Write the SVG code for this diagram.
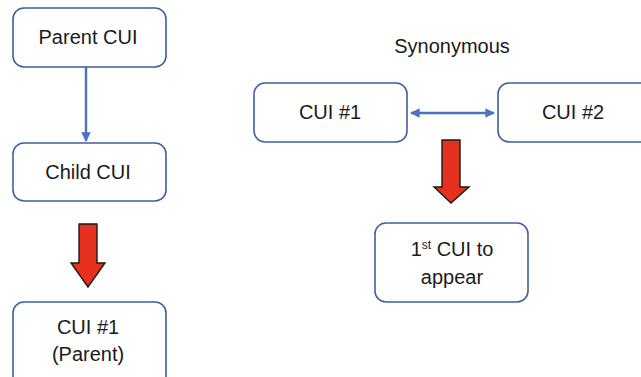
<svg xmlns="http://www.w3.org/2000/svg" width="641" height="377" viewBox="0 0 641 377">
  <style>
    .box { fill: #ffffff; stroke: #3f5f9f; stroke-width: 1.6; }
    .lbl { font-family: "Liberation Sans", Arial, sans-serif; font-size: 20px; fill: #1a1a1a; text-anchor: middle; }
    .link { stroke: #4a72c0; stroke-width: 2.4; fill: none; }
    .bigarrow { fill: #e5311d; stroke: #1a1a1a; stroke-width: 1.4; stroke-linejoin: miter; }
  </style>
  <defs>
    <marker id="head" viewBox="0 0 10 10" refX="9" refY="5" markerWidth="4" markerHeight="4" orient="auto-start-reverse" markerUnits="strokeWidth">
      <path d="M0,0 L10,5 L0,10 z" fill="#4a72c0"/>
    </marker>
  </defs>
  <rect width="641" height="377" fill="#ffffff"/>

  <g id="connectors">
    <line class="link" x1="86" y1="67" x2="86" y2="141" marker-end="url(#head)"/>
    <line class="link" x1="411" y1="113" x2="494" y2="113" marker-start="url(#head)" marker-end="url(#head)"/>
    <path class="bigarrow" d="M79,224 H97 V263 H105 L88,287 L71,263 H79 Z"/>
    <path class="bigarrow" d="M442,140 H460 V187 H469 L451,203 L434,187 H442 Z"/>
  </g>

  <g id="parent-cui">
    <rect class="box" x="13" y="8" width="153" height="59" rx="11"/>
    <text class="lbl" x="88" y="44">Parent CUI</text>
  </g>
  <g id="child-cui">
    <rect class="box" x="13" y="143" width="153" height="58" rx="11"/>
    <text class="lbl" x="88" y="179">Child CUI</text>
  </g>
  <g id="cui1-parent">
    <rect class="box" x="13" y="302" width="153" height="90" rx="11"/>
    <text class="lbl" x="88" y="334">CUI #1</text>
    <text class="lbl" x="88" y="361">(Parent)</text>
  </g>

  <g id="synonymous-title">
    <text class="lbl" x="452" y="53">Synonymous</text>
  </g>
  <g id="cui1">
    <rect class="box" x="254" y="83" width="153" height="59" rx="11"/>
    <text class="lbl" x="330" y="119">CUI #1</text>
  </g>
  <g id="cui2">
    <rect class="box" x="498" y="83" width="160" height="59" rx="11"/>
    <text class="lbl" x="573" y="119">CUI #2</text>
  </g>
  <g id="first-cui">
    <rect class="box" x="375" y="223" width="153" height="79" rx="11"/>
    <text class="lbl" x="452" y="256">1<tspan dy="-7" style="font-size:12px">st</tspan><tspan dy="7"> CUI to</tspan></text>
    <text class="lbl" x="452" y="284">appear</text>
  </g>
</svg>
